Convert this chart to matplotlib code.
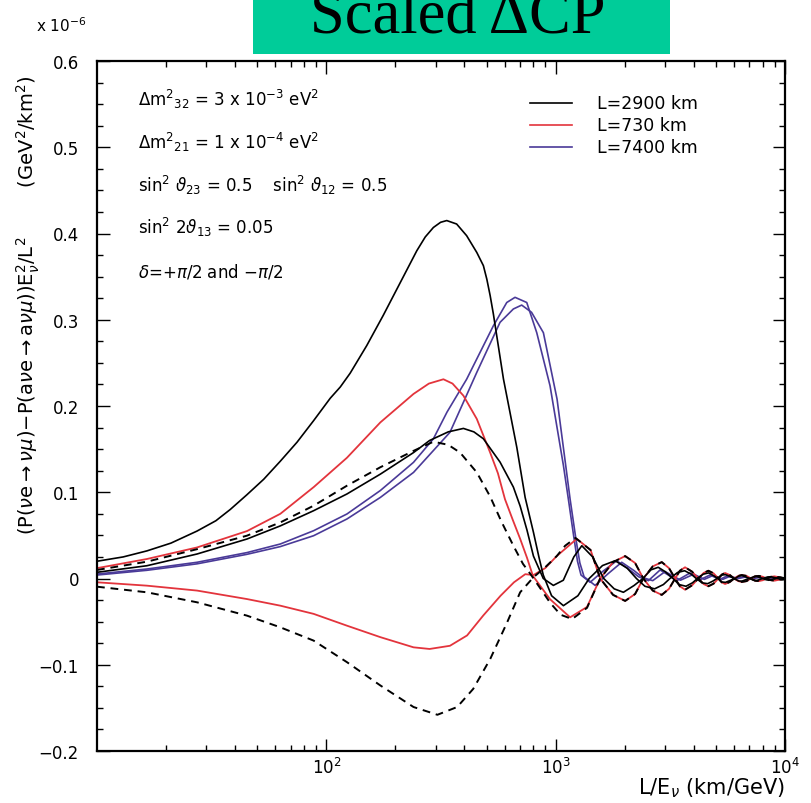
import math
import matplotlib
matplotlib.use("Agg")
import matplotlib.pyplot as plt
from matplotlib.patches import Rectangle
from matplotlib.lines import Line2D
from matplotlib.ticker import FixedLocator, FuncFormatter, LogLocator, NullFormatter

# ---- data (x = L/E in km/GeV, y in units of 1e-6 GeV^2/km^2)

# L=2900 km, delta=+pi/2 (solid black, big peak)
le_k1 = [10, 13, 16.5, 21, 27.3, 33, 38.1, 45, 53.3, 63, 74.5, 88, 104, 115, 127, 150,
         177, 210, 248, 270, 293, 315, 335, 370, 409, 453, 484, 501, 518, 535, 562, 592,
         632, 677, 736, 800, 845, 883, 960, 1081, 1250, 1400, 1600, 1816, 2050, 2250, 2450,
         2700, 2950, 3150, 3400, 3650, 3900, 4100, 4350, 4600, 4850, 5050, 5300, 5500,
         5800, 6000, 6300, 6500, 6800, 7000, 7300, 7500, 7800, 8000, 8300, 8500, 8800,
         9000, 9500, 10000]
dcp_k1 = [0.020, 0.025, 0.032, 0.041, 0.055, 0.067, 0.080, 0.097, 0.115, 0.136, 0.158,
          0.183, 0.209, 0.222, 0.238, 0.270, 0.305, 0.343, 0.380, 0.396, 0.407, 0.413,
          0.415, 0.411, 0.3975, 0.378, 0.3627, 0.347, 0.328, 0.3067, 0.270, 0.2313,
          0.1927, 0.152, 0.094, 0.0536, 0.025, 0.004, -0.020, -0.0315, -0.02, 0.0, 0.015,
          0.0206, 0.012, 0.0, -0.009, -0.012, -0.007, 0.0, 0.007, 0.009, 0.005, 0.0,
          -0.005, -0.006, -0.003, 0.0, 0.004, 0.0045, 0.002, 0.0, -0.003, -0.003, -0.001,
          0.0, 0.002, 0.0025, 0.001, 0.0, -0.0015, -0.002, -0.001, 0.0, 0.0015, 0.0005]

# L=2900 km, second solid black curve
le_k2 = [10, 16.5, 27.3, 45.1, 63, 88, 123, 172, 240, 282, 340, 396, 440, 484, 572, 654,
         700, 750, 800, 883, 977, 1080, 1200, 1300, 1450, 1620, 1800, 1974, 2200, 2400,
         2600, 2800, 3000, 3250, 3450, 3700, 3950, 4150, 4400, 4650, 4900, 5100, 5300,
         5500, 5800, 6050, 6300, 6500, 6800, 7000, 7300, 7500, 7800, 8000, 8400, 8700,
         9000, 9300, 9700, 10000]
dcp_k2 = [0.0072, 0.0148, 0.0284, 0.0458, 0.061, 0.0786, 0.098, 0.121, 0.146, 0.160,
          0.170, 0.174, 0.170, 0.162, 0.135, 0.106, 0.084, 0.056, 0.026, 0.0, -0.008,
          -0.002, 0.025, 0.038, 0.025, 0.0, -0.012, -0.016, -0.008, 0.0, 0.010, 0.013,
          0.008, 0.0, -0.007, -0.009, -0.005, 0.0, 0.005, 0.0065, 0.003, 0.0, -0.004,
          -0.0045, -0.002, 0.0, 0.003, 0.0035, 0.0015, 0.0, -0.002, -0.0025, -0.001,
          0.0, 0.0018, 0.002, 0.001, 0.0, -0.0015, -0.001]

# L=2900 km dashed, upper
le_d1 = [10, 16.5, 27.3, 45, 63, 88, 123, 172, 240, 293, 340, 383, 453, 518, 580, 654,
         720, 777, 850, 945, 1050, 1180, 1370, 1563, 1780, 2009, 2220, 2411, 2650, 2902,
         3120, 3318, 3480, 3666, 3930, 4189, 4420, 4634, 4880, 5126, 5300, 5480, 5750,
         6000, 6250, 6480, 6800, 7100, 7400, 7700, 8000, 8300, 8700, 9000, 9400, 10000]
dcp_d1 = [0.0099, 0.0195, 0.034, 0.0496, 0.065, 0.0844, 0.1076, 0.129, 0.148, 0.1586,
          0.155, 0.146, 0.123, 0.095, 0.066, 0.038, 0.017, 0.005, -0.010, -0.028, -0.042,
          -0.047, -0.034, 0.0, 0.019, 0.026, 0.018, 0.0, -0.014, -0.019, -0.012, 0.0,
          0.009, 0.013, 0.008, 0.0, -0.0065, -0.009, -0.006, 0.0, 0.0045, 0.0064, 0.004,
          0.0, -0.003, -0.004, -0.003, 0.0, 0.0025, 0.003, 0.002, 0.0, -0.002, -0.0025,
          -0.0015, 0.0]

# L=2900 km dashed, lower
le_d2 = [10, 16.5, 27.3, 45, 63, 88, 123, 172, 240, 305, 372, 437, 519, 614, 700, 800,
         900, 1011, 1100, 1220, 1420, 1563, 1780, 2009, 2220, 2411, 2650, 2902, 3120,
         3318, 3480, 3666, 3930, 4189, 4420, 4634, 4880, 5126, 5300, 5480, 5750, 6000,
         6250, 6480, 6800, 7100, 7400, 7700, 8000, 8300, 8700, 9000, 9400, 10000]
dcp_d2 = [-0.0095, -0.016, -0.0276, -0.043, -0.0566, -0.072, -0.097, -0.124, -0.149,
          -0.158, -0.149, -0.128, -0.093, -0.051, -0.016, 0.0014, 0.013, 0.026, 0.038,
          0.047, 0.033, 0.0, -0.019, -0.026, -0.018, 0.0, 0.014, 0.019, 0.012, 0.0,
          -0.009, -0.013, -0.008, 0.0, 0.0065, 0.009, 0.006, 0.0, -0.0045, -0.0064,
          -0.004, 0.0, 0.003, 0.004, 0.003, 0.0, -0.0025, -0.003, -0.002, 0.0, 0.002,
          0.0025, 0.0015, 0.0]

# L=730 km, upper red
le_r1 = [10, 16.5, 27.3, 45.1, 63, 88.1, 123, 172, 240, 280, 324, 355, 396, 453, 518, 560,
         601, 650, 700, 750, 796, 945, 1156, 1370, 1563, 1780, 2009, 2220, 2411, 2650,
         2902, 3120, 3318, 3480, 3666, 3930, 4189, 4420, 4634, 4880, 5126, 5300, 5480,
         5750, 6000, 6250, 6480, 6800, 7100, 7400, 7700, 8000, 8300, 8700, 9000, 9400,
         10000]
dcp_r1 = [0.012, 0.0226, 0.036, 0.055, 0.075, 0.106, 0.140, 0.181, 0.214, 0.226, 0.231,
          0.226, 0.212, 0.185, 0.146, 0.122, 0.092, 0.068, 0.046, 0.024, 0.003, -0.024,
          -0.045, -0.033, 0.0, 0.019, 0.026, 0.018, 0.0, -0.014, -0.019, -0.012, 0.0,
          0.009, 0.013, 0.008, 0.0, -0.0065, -0.009, -0.006, 0.0, 0.0045, 0.0064, 0.004,
          0.0, -0.003, -0.004, -0.003, 0.0, 0.0025, 0.003, 0.002, 0.0, -0.002, -0.0025,
          -0.0015, 0.0]

# L=730 km, lower red
le_r2 = [10, 16.5, 27.3, 45, 63, 88, 123, 172, 240, 282, 346, 411, 483, 575, 658, 737,
         800, 900, 1011, 1236, 1420, 1563, 1780, 2009, 2220, 2411, 2650, 2902, 3120, 3318,
         3480, 3666, 3930, 4189, 4420, 4634, 4880, 5126, 5300, 5480, 5750, 6000, 6250,
         6480, 6800, 7100, 7400, 7700, 8000, 8300, 8700, 9000, 9400, 10000]
dcp_r2 = [-0.0044, -0.0083, -0.014, -0.0238, -0.0315, -0.041, -0.0547, -0.068, -0.0798,
          -0.0817, -0.078, -0.066, -0.043, -0.020, -0.0044, 0.005, 0.004, 0.012, 0.026,
          0.046, 0.033, 0.0, -0.019, -0.026, -0.018, 0.0, 0.014, 0.019, 0.012, 0.0,
          -0.009, -0.013, -0.008, 0.0, 0.0065, 0.009, 0.006, 0.0, -0.0045, -0.0064,
          -0.004, 0.0, 0.003, 0.004, 0.003, 0.0, -0.0025, -0.003, -0.002, 0.0, 0.002,
          0.0025, 0.0015, 0.0]

# L=7400 km, two blue curves
le_b1 = [10, 16.5, 27.3, 45, 63, 88, 123, 172, 240, 293, 336, 409, 535, 612, 665, 748,
         827, 945, 1081, 1136, 1200, 1245, 1290, 1413, 1600, 1846, 2100, 2300, 2537, 2853,
         3100, 3373, 3855, 4300, 4700, 5200, 5600, 6100, 6600, 7100, 7600, 8200, 8800,
         10000]
dcp_b1 = [0.0052, 0.011, 0.0188, 0.030, 0.040, 0.0554, 0.0748, 0.102, 0.1347, 0.162,
          0.193, 0.231, 0.293, 0.320, 0.326, 0.320, 0.285, 0.2235, 0.131, 0.092, 0.048,
          0.020, 0.004, -0.0044, 0.008, 0.0206, 0.010, 0.002, -0.0025, 0.0099, 0.004,
          -0.0025, 0.0064, -0.001, 0.004, -0.001, 0.003, 0.0, 0.002, 0.0, 0.0015, 0.0,
          0.001, 0.0]
le_b2 = [10, 16.5, 27.3, 45, 63, 88, 123, 172, 240, 346, 453, 572, 654, 711, 785, 884,
         1014, 1156, 1225, 1275, 1330, 1486, 1700, 1941, 2200, 2400, 2650, 3000, 3250,
         3500, 4000, 4450, 4850, 5350, 5750, 6250, 6750, 7250, 7750, 8400, 9000, 10000]
dcp_b2 = [0.004, 0.0095, 0.017, 0.028, 0.037, 0.0496, 0.069, 0.094, 0.123, 0.1695, 0.239,
          0.297, 0.3125, 0.317, 0.3086, 0.285, 0.208, 0.092, 0.046, 0.018, 0.002, -0.008,
          0.006, 0.0188, 0.009, 0.001, -0.0025, 0.008, 0.003, -0.002, 0.005, -0.001,
          0.0035, -0.001, 0.0025, 0.0, 0.0018, 0.0, 0.0012, 0.0, 0.0008, 0.0]

params = [r"$\Delta$m$^2$$_{32}$ = 3 x 10$^{-3}$ eV$^2$",
          r"$\Delta$m$^2$$_{21}$ = 1 x 10$^{-4}$ eV$^2$",
          r"sin$^2$ $\vartheta_{23}$ = 0.5    sin$^2$ $\vartheta_{12}$ = 0.5",
          r"sin$^2$ 2$\vartheta_{13}$ = 0.05",
          r"$\delta$=+$\pi$/2 and $-\pi$/2"]
legend_labels = ["L=2900 km", "L=730 km", "L=7400 km"]

BLACK = "black"
RED = "#e3343c"
BLUE = "#4a3a98"

plt.rcParams["font.family"] = ["DejaVu Sans"]
plt.rcParams["mathtext.fontset"] = "dejavusans"

fig = plt.figure(figsize=(8.11, 8.04), dpi=100)
ax = fig.add_axes([97 / 811, 1 - 752 / 804, 688 / 811, 690 / 804])

lw = 1.2
ax.plot(le_b1, dcp_b1, color=BLUE, lw=lw)
ax.plot(le_b2, dcp_b2, color=BLUE, lw=lw)
ax.plot(le_r1, dcp_r1, color=RED, lw=1.3)
ax.plot(le_r2, dcp_r2, color=RED, lw=1.3)
ax.plot(le_d1, dcp_d1, color=BLACK, lw=1.4, linestyle=(0, (4, 3)))
ax.plot(le_d2, dcp_d2, color=BLACK, lw=1.4, linestyle=(0, (4, 3)))
ax.plot(le_k2, dcp_k2, color=BLACK, lw=lw)
ax.plot(le_k1, dcp_k1, color=BLACK, lw=lw)

ax.set_xscale("log")
ax.set_xlim(10, 1e4)
ax.set_ylim(-0.2, 0.6)

ax.xaxis.set_major_locator(FixedLocator([100, 1000, 10000]))
ax.xaxis.set_major_formatter(FuncFormatter(lambda v, p: r"$10^{%d}$" % round(math.log10(v))))
ax.xaxis.set_minor_locator(LogLocator(base=10, subs=range(2, 10)))
ax.xaxis.set_minor_formatter(NullFormatter())
ax.yaxis.set_major_locator(FixedLocator([-0.2, -0.1, 0, 0.1, 0.2, 0.3, 0.4, 0.5, 0.6]))
ax.yaxis.set_minor_locator(FixedLocator([-0.2 + 0.025 * i for i in range(33)]))
ax.yaxis.set_major_formatter(FuncFormatter(
    lambda v, p: "0" if abs(v) < 1e-9 else ("%.1f" % v).replace("-", "\u2212")))

ax.tick_params(which="both", direction="in", top=True, right=True, labelsize=12)
ax.tick_params(which="major", length=9, width=1.0)
ax.tick_params(which="minor", length=4.5, width=1.0)
ax.tick_params(axis="y", pad=13)
ax.tick_params(axis="x", pad=4)
for s in ax.spines.values():
    s.set_linewidth(1.6)

# parameter block
for i, t in enumerate(params):
    fig.text(138 / 811, 1 - (106 + 42.8 * i) / 804, t, fontsize=12, ha="left", va="baseline")

# legend drawn by hand
for i, (lab, col) in enumerate(zip(legend_labels, [BLACK, RED, BLUE])):
    yy = 1 - (104 + 22 * i) / 804
    fig.add_artist(Line2D([530 / 811, 572 / 811], [yy, yy], color=col, lw=1.2))
    fig.text(597 / 811, yy, lab, fontsize=12.5, ha="left", va="center")

# title box
fig.add_artist(Rectangle((253 / 811, 1 - 55 / 804), 417 / 811, 55 / 804,
                         transform=fig.transFigure, facecolor="#00cc99", edgecolor="none"))
fig.text(458 / 811, 1 - 34 / 804, "Scaled \u0394CP", fontsize=45, family="Liberation Serif",
         ha="center", va="baseline")

fig.text(36 / 811, 1 - 32 / 804, r"x 10$^{-6}$", fontsize=11, ha="left", va="baseline")

fig.text(28 / 811, 1 - 305 / 804,
         r"(P($\nu$e$\rightarrow$$\nu\mu$)$-$P(a$\nu$e$\rightarrow$a$\nu\mu$))E$^2_\nu$/L$^2$"
         r"        (GeV$^2$/km$^2$)",
         rotation=90, fontsize=14, ha="center", va="center")

fig.text(785 / 811, 1 - 800 / 804, r"L/E$_\nu$ (km/GeV)", fontsize=15, ha="right", va="bottom")

fig.savefig("out.png", dpi=100)
